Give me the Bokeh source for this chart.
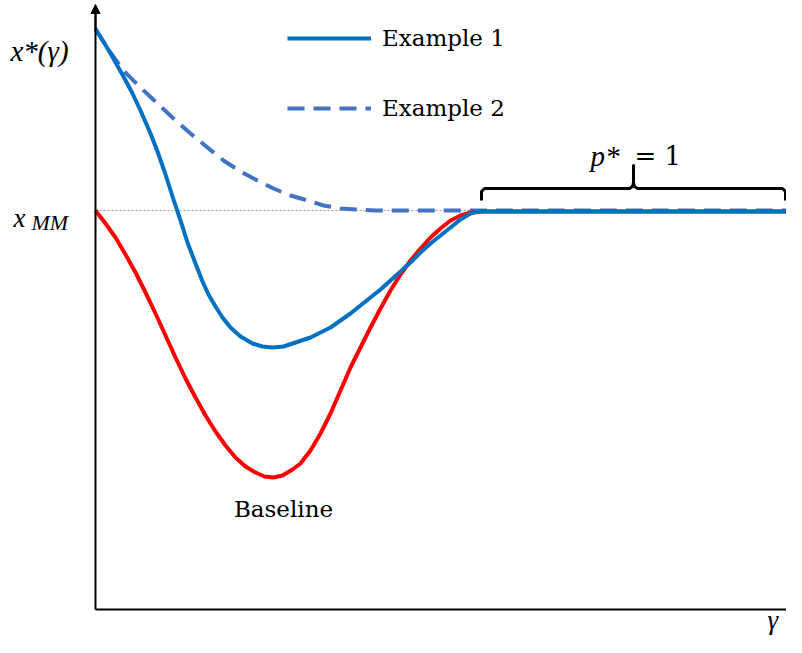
from bokeh.plotting import figure
from bokeh.models import Range1d, FixedTicker, Label, Legend, LegendItem, Arrow, NormalHead, LinearAxis
from bokeh.embed import file_html
from bokeh.resources import INLINE

# ---- data (gamma and x* in arbitrary units) ----
gamma_base = [0, 10, 20, 30, 40, 50, 60, 70, 80, 90, 100, 110, 120, 130, 140, 150, 160, 169, 178,
              187, 197, 205, 215, 225, 235, 245, 255, 265, 275, 285, 295, 305, 315, 325, 335,
              345, 355, 365, 375, 388, 695]
x_base = [399, 386, 372, 355, 337, 317, 296, 274, 252, 231, 212, 194, 178, 164, 152, 143, 137,
          133, 132, 134, 140, 146, 159, 176, 196, 219, 242, 262, 282, 301, 319, 335, 349, 361,
          372, 381, 389, 394, 397, 398, 398]

gamma_ex1 = [0, 8, 15, 28, 37, 45, 55, 62, 70, 78, 85, 92, 100, 107, 113, 120, 127, 135, 145,
             157, 167, 177, 188, 200, 215, 225, 235, 245, 255, 265, 275, 285, 295, 305, 315,
             325, 335, 345, 355, 365, 375, 383, 695]
x_ex1 = [580, 568, 556, 533, 516, 499, 476, 458, 435, 410, 389, 367, 346, 328, 315, 303, 292,
         282, 273, 266, 263, 262, 263, 267, 272, 277, 282, 289, 296, 304, 312, 320, 329, 338,
         347, 357, 366, 374, 382, 390, 396, 398, 398]

gamma_ex2 = [0, 10, 20, 28, 45, 62, 78, 95, 112, 128, 145, 162, 178, 195, 212, 228, 245, 262,
             280, 295, 695]
x_ex2 = [581, 564, 550, 539, 522, 506, 491, 476, 462, 449, 438, 429, 421, 414, 409, 404, 401,
         400, 399, 399, 399]

x_mm = 399
p_star_start = 386   # gamma where the p* = 1 region begins
p_star_end = 690

labels = ["Example 1", "Example 2"]

# ---- figure ----
p = figure(width=786, height=637, output_backend="svg", toolbar_location=None,
           x_range=Range1d(-95, 691), y_range=Range1d(-28, 609),
           x_axis_location=None, y_axis_location=None,
           min_border_left=0, min_border_right=0, min_border_top=0, min_border_bottom=0)
p.outline_line_color = None
p.grid.visible = False

def bare_axis(bounds):
    ax = LinearAxis(fixed_location=0, bounds=bounds, ticker=FixedTicker(ticks=[]))
    ax.major_tick_out = 0
    ax.major_tick_in = 0
    ax.minor_tick_out = 0
    ax.minor_tick_in = 0
    ax.major_label_standoff = 0
    ax.major_label_text_font_size = "0px"
    ax.axis_line_color = "black"
    ax.axis_line_width = 2
    return ax

p.add_layout(bare_axis((0, 700)), "below")
p.add_layout(bare_axis((0, 600)), "left")

serif = "DejaVu Serif"
math = "'Liberation Serif', serif"

# reference level x_MM
p.line([0, 695], [x_mm, x_mm], line_color="#9a9a9a", line_width=1.2, line_dash="2 2")

r_ex2 = p.line(gamma_ex2, x_ex2, line_color="#4472C4", line_width=4, line_dash="17 9")
r_base = p.line(gamma_base, x_base, line_color="#FF0000", line_width=4, line_join="round")
r_ex1 = p.line(gamma_ex1, x_ex1, line_color="#0070C0", line_width=4, line_join="round")

# y axis arrow head
p.add_layout(Arrow(end=NormalHead(size=9, fill_color="black", line_color="black"),
                   x_start=0, y_start=580, x_end=0, y_end=605,
                   line_color="black", line_width=2))

# brace over p* = 1 region
bt = 421      # brace horizontal level
bd = 409      # brace tips
bs = 444      # spike top
mid = (p_star_start + p_star_end) / 2
bx = [p_star_start, p_star_start, p_star_start + 3, mid - 4, mid - 1, mid, mid, mid,
      mid + 1, mid + 4, p_star_end - 3, p_star_end, p_star_end]
by = [bd, bt - 3, bt, bt, bt + 2, bt + 6, bs, bt + 6, bt + 2, bt, bt, bt - 3, bd]
p.line(bx, by, line_color="black", line_width=3, line_join="round")

# legend
legend = Legend(items=[LegendItem(label=labels[0], renderers=[r_ex1]),
                       LegendItem(label=labels[1], renderers=[r_ex2])],
                location=(287, 515), glyph_width=84, glyph_height=28, label_height=28,
                label_standoff=11, spacing=42, padding=0, margin=0,
                label_text_font=serif, label_text_font_size="23px", label_text_color="black",
                border_line_color=None, background_fill_alpha=0)
p.add_layout(legend)

# texts
p.add_layout(Label(x=-85, y=559, text="x*(γ)", text_font=math, text_font_style="italic",
                   text_font_size="29px", text_baseline="alphabetic", text_color="black"))
p.add_layout(Label(x=-82, y=392, text="x", text_font=math, text_font_style="italic",
                   text_font_size="27px", text_baseline="alphabetic", text_color="black"))
p.add_layout(Label(x=-64, y=387, text="MM", text_font=math, text_font_style="italic",
                   text_font_size="22px", text_baseline="alphabetic", text_color="black"))
p.add_layout(Label(x=495, y=454, text="p*", text_font=math, text_font_style="italic",
                   text_font_size="29px", text_baseline="alphabetic", text_color="black"))
p.add_layout(Label(x=539, y=454, text="= 1", text_font=serif,
                   text_font_size="26px", text_baseline="alphabetic", text_color="black"))
p.add_layout(Label(x=672, y=-10, text="γ", text_font=math, text_font_style="italic",
                   text_font_size="27px", text_baseline="alphabetic", text_color="black"))
p.add_layout(Label(x=188, y=101, text="Baseline", text_font=serif, text_align="center",
                   text_font_size="23px", text_baseline="alphabetic", text_color="black"))

open("out.html", "w").write(file_html(p, INLINE))
